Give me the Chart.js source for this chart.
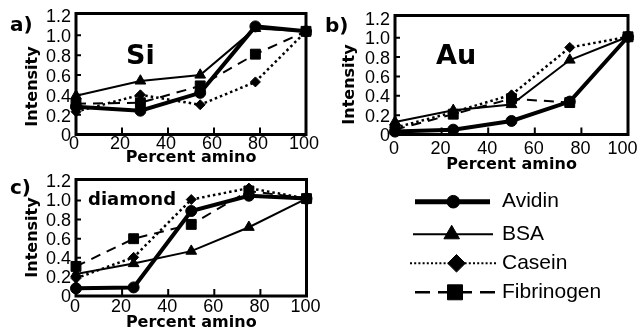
<!DOCTYPE html>
<html><head><meta charset="utf-8">
<script src="https://cdn.jsdelivr.net/npm/chart.js@4.4.1/dist/chart.umd.min.js"></script>
<style>
html,body{margin:0;padding:0;background:#fff;width:637px;height:329px;overflow:hidden}
canvas{position:absolute;left:0;top:0}
</style></head><body>
<canvas id="ca" width="637" height="329"></canvas>
<canvas id="cb" width="637" height="329"></canvas>
<canvas id="cc" width="637" height="329"></canvas>
<script>
// ---- data ----
const seriesNames = ['Avidin', 'BSA', 'Casein', 'Fibrinogen'];
const xPercentSi = [0, 28, 54, 78, 100];
const xPercent = [0, 25, 50, 75, 100];
const siAvidin = [0.28, 0.24, 0.42, 1.09, 1.04];
const siBSA = [0.39, 0.54, 0.60, 1.07, 1.04];
const siCasein = [0.23, 0.40, 0.30, 0.53, 1.04];
const siFibrinogen = [0.31, 0.32, 0.49, 0.81, 1.04];
const auAvidin = [0.03, 0.05, 0.14, 0.34, 1.01];
const auBSA = [0.13, 0.25, 0.31, 0.77, 1.01];
const auCasein = [0.07, 0.23, 0.41, 0.90, 1.01];
const auFibrinogen = [0.05, 0.21, 0.37, 0.33, 1.01];
const diaAvidin = [0.08, 0.09, 0.89, 1.05, 1.02];
const diaBSA = [0.23, 0.34, 0.47, 0.72, 1.02];
const diaCasein = [0.185, 0.405, 1.01, 1.13, 1.02];
const diaFibrinogen = [0.31, 0.60, 0.75, 1.10, 1.02];
const yTickValues = [0, 0.2, 0.4, 0.6, 0.8, 1.0, 1.2];
const yTickLabels = ['0', '0.2', '0.4', '0.6', '0.8', '1.0', '1.2'];
const xTickValues = [0, 20, 40, 60, 80, 100];
const xTickLabels = ['0', '20', '40', '60', '80', '100'];
const panelLetters = ['a)', 'b)', 'c)'];
const materials = ['Si', 'Au', 'diamond'];
const xTitle = 'Percent amino';
const yTitle = 'Intensity';

// ---- styles ----
const seriesStyles = [
  {pointStyle: 'circle', radius: 5.5, width: 4, dash: []},
  {pointStyle: 'triangle', radius: 6.2, width: 2, dash: []},
  {pointStyle: 'rectRot', radius: 5, width: 2.5, dash: [2.5, 3]},
  {pointStyle: 'rect', radius: 7, width: 2, dash: [10, 7]}
];
const legendStyles = [
  {y: 201.7, x0: 415, x1: 490, mx: 453.3, r: 6.3, width: 5, dash: [], segs: null},
  {y: 234.3, x0: 413, x1: 493, mx: 451.7, r: 9, width: 2, dash: [], segs: null},
  {y: 263.3, x0: 410, x1: 497, mx: 456.5, r: 8.8, width: 2, dash: [2, 2.2], segs: null},
  {y: 292.3, x0: 415, x1: 495, mx: 455, r: 10.6, width: 2.5, dash: [], segs: [[415, 430], [438, 472], [480, 495]]}
];
const W = 637, H = 329;
const TICK_FONT = {family: "'Liberation Sans', Arial, sans-serif", size: 18, lineHeight: 1};
const BOLD = "'DejaVu Sans', sans-serif";

Chart.defaults.color = '#000';

const framePlugin = {
  id: 'frame',
  beforeDatasetsDraw(chart) {
    const {ctx, chartArea: {left, right, top, bottom}, scales: {x, y}} = chart;
    ctx.save();
    ctx.strokeStyle = '#000';
    ctx.lineWidth = 3;
    ctx.strokeRect(left, top, right - left, bottom - top);
    ctx.lineWidth = 2;
    ctx.beginPath();
    x.ticks.forEach(t => {
      if (t.value > x.min && t.value < x.max) {
        const px = x.getPixelForValue(t.value);
        ctx.moveTo(px, bottom); ctx.lineTo(px, bottom - 7);
      }
    });
    y.ticks.forEach(t => {
      if (t.value > 0 && t.value < 1.2) {
        const py = y.getPixelForValue(t.value);
        ctx.moveTo(left, py); ctx.lineTo(left + 5, py);
      }
    });
    ctx.stroke();
    ctx.restore();
  }
};

const decorPlugin = {
  id: 'decor',
  afterDraw(chart, args, o) {
    const ctx = chart.ctx;
    ctx.save();
    ctx.fillStyle = '#000';
    ctx.textBaseline = 'alphabetic';
    ctx.textAlign = 'left';
    ctx.font = 'bold 20px ' + BOLD;
    ctx.fillText(o.letter, o.letterX, o.letterY);
    ctx.font = 'bold ' + o.matSize + 'px ' + BOLD;
    ctx.fillText(o.material, o.matX, o.matY);
    ctx.font = 'bold 16px ' + BOLD;
    ctx.translate(o.yTitleX, o.yTitleY);
    ctx.rotate(-Math.PI / 2);
    ctx.textAlign = 'center';
    ctx.textBaseline = 'middle';
    ctx.fillText(yTitle, 0, 0);
    ctx.restore();
  }
};

function drawMarker(ctx, style, r, x, y) {
  if (Chart.helpers && Chart.helpers.drawPoint) {
    Chart.helpers.drawPoint(ctx, {pointStyle: style, radius: r, borderWidth: 1, rotation: 0}, x, y);
    return;
  }
  ctx.beginPath();
  if (style === 'circle') ctx.arc(x, y, r, 0, Math.PI * 2);
  else if (style === 'triangle') { ctx.moveTo(x, y - r); ctx.lineTo(x + 0.866 * r, y + r / 2); ctx.lineTo(x - 0.866 * r, y + r / 2); ctx.closePath(); }
  else if (style === 'rectRot') { ctx.moveTo(x - r, y); ctx.lineTo(x, y - r); ctx.lineTo(x + r, y); ctx.lineTo(x, y + r); ctx.closePath(); }
  else { const s = r * Math.SQRT1_2; ctx.rect(x - s, y - s, 2 * s, 2 * s); }
  ctx.fill(); ctx.stroke();
}

const legendPlugin = {
  id: 'sampleLegend',
  afterDraw(chart) {
    const ctx = chart.ctx;
    ctx.save();
    chart.data.datasets.forEach((ds, i) => {
      const L = legendStyles[i];
      ctx.strokeStyle = '#000';
      ctx.fillStyle = '#000';
      ctx.lineWidth = L.width;
      ctx.setLineDash(L.dash);
      ctx.lineCap = 'butt';
      ctx.beginPath();
      const segs = L.segs || [[L.x0, L.x1]];
      segs.forEach(s => { ctx.moveTo(s[0], L.y); ctx.lineTo(s[1], L.y); });
      ctx.stroke();
      ctx.setLineDash([]);
      ctx.lineWidth = 1;
      drawMarker(ctx, ds.pointStyle, L.r, L.mx, L.y);
      ctx.font = "21px 'Liberation Sans', Arial, sans-serif";
      ctx.textAlign = 'left';
      ctx.textBaseline = 'middle';
      ctx.fillText(ds.label, 502, L.y);
    });
    ctx.restore();
  }
};

function makeDatasets(xs, seriesList) {
  return seriesList.map((vals, i) => {
    const s = seriesStyles[i];
    return {
      label: seriesNames[i],
      data: xs.map((x, k) => ({x: x, y: vals[k]})),
      borderColor: '#000',
      backgroundColor: '#000',
      borderWidth: s.width,
      borderDash: s.dash,
      pointStyle: s.pointStyle,
      pointRadius: s.radius,
      pointBackgroundColor: '#000',
      pointBorderColor: '#000',
      pointBorderWidth: 1,
      tension: 0,
      clip: false
    };
  });
}

function makePanel(canvasId, xs, seriesList, p, extraPlugins) {
  const yW = 40;
  const xH = Math.min(H - p.bottom, p.titleY + 8 - p.bottom);
  const padB = H - p.bottom - xH;
  const titlePadB = p.bottom + xH - 8 - p.titleY;
  const lastX = xTickLabels.length - 1;
  return new Chart(document.getElementById(canvasId), {
    type: 'line',
    data: {datasets: makeDatasets(xs, seriesList)},
    options: {
      responsive: false,
      animation: false,
      devicePixelRatio: 1,
      events: [],
      layout: {padding: {left: p.left - yW, right: W - p.right, top: p.top, bottom: padB}},
      plugins: {
        legend: {display: false},
        tooltip: {enabled: false},
        decor: p.decor
      },
      scales: {
        x: {
          type: 'linear', min: 0, max: 100,
          grid: {display: false, drawTicks: false},
          border: {display: false},
          afterBuildTicks: s => { s.ticks = xTickValues.map(v => ({value: v})); },
          afterFit: s => { s.height = xH; s.paddingLeft = 0; s.paddingRight = 0; },
          ticks: {font: TICK_FONT, padding: p.xTickPad, labelOffset: p.xLabelOffset, autoSkip: false, maxRotation: 0, color: '#000',
            callback: (v, i) => xTickLabels[i] + (p.padLast && i === lastX ? '\u2002' : '')},
          title: {display: true, text: xTitle, color: '#000', font: {family: BOLD, weight: 'bold', size: 16, lineHeight: 1}, padding: {top: 0, bottom: titlePadB}}
        },
        y: {
          type: 'linear', min: 0, max: p.ymax,
          grid: {display: false, drawTicks: false},
          border: {display: false},
          afterBuildTicks: s => { s.ticks = yTickValues.map(v => ({value: v})); },
          afterFit: s => { s.width = yW; s.paddingTop = 0; s.paddingBottom = 0; },
          ticks: {font: TICK_FONT, padding: 5, labelOffset: p.yLabelOffset, autoSkip: false, color: '#000',
            callback: (v, i) => yTickLabels[i]}
        }
      }
    },
    plugins: [framePlugin, decorPlugin].concat(extraPlugins || [])
  });
}

makePanel('ca', xPercentSi, [siAvidin, siBSA, siCasein, siFibrinogen], {
  left: 76, right: 306, top: 13.5, bottom: 134.5, ymax: 1.22, titleY: 157.5,
  xTickPad: 1, xLabelOffset: -2, yLabelOffset: 2, padLast: false,
  decor: {letter: panelLetters[0], letterX: 10, letterY: 31, material: materials[0], matSize: 27, matX: 126, matY: 64, yTitleX: 32.5, yTitleY: 86.5}
});
makePanel('cb', xPercent, [auAvidin, auBSA, auCasein, auFibrinogen], {
  left: 395, right: 628, top: 15.5, bottom: 134.5, ymax: 1.23, titleY: 165,
  xTickPad: 5.5, xLabelOffset: -1, yLabelOffset: 1.5, padLast: true,
  decor: {letter: panelLetters[1], letterX: 325, letterY: 32, material: materials[1], matSize: 27, matX: 436, matY: 64, yTitleX: 350, yTitleY: 84.5}
});
makePanel('cc', xPercent, [diaAvidin, diaBSA, diaCasein, diaFibrinogen], {
  left: 76, right: 306.5, top: 179.5, bottom: 296, ymax: 1.22, titleY: 323,
  xTickPad: 2.5, xLabelOffset: -1, yLabelOffset: 1, padLast: false,
  decor: {letter: panelLetters[2], letterX: 10, letterY: 194, material: materials[2], matSize: 18, matX: 88, matY: 205, yTitleX: 32.5, yTitleY: 237.5}
}, [legendPlugin]);
</script>
</body></html>
